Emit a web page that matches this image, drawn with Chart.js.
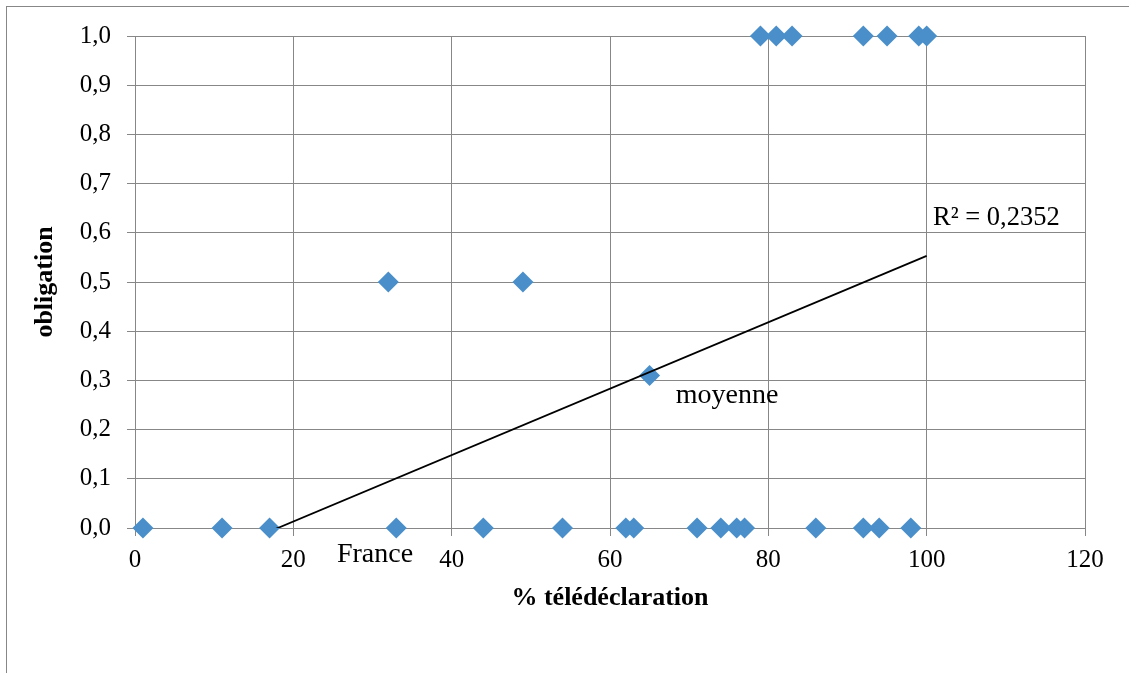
<!DOCTYPE html>
<html>
<head>
<meta charset="utf-8">
<script src="https://cdn.jsdelivr.net/npm/chart.js@4/dist/chart.umd.min.js"></script>
<style>
  body { margin: 0; background: #fff; }
  #wrap { width: 1129px; height: 673px; }
</style>
</head>
<body>
<div id="wrap"><canvas id="chart" width="1129" height="673"></canvas></div>
<script>
// ---- data ----
const teledeclaration = [1, 11, 17, 33, 44, 54, 62, 63, 71, 74, 76, 77, 86, 92, 94, 98,
                         32, 49, 65, 79, 81, 83, 92, 95, 99, 100];
const obligation = [0, 0, 0, 0, 0, 0, 0, 0, 0, 0, 0, 0, 0, 0, 0, 0,
                    0.5, 0.5, 0.31, 1, 1, 1, 1, 1, 1, 1];

// linear trend (Excel), ends
const trendX = [1, 100];
const trendY = [-0.115, 0.553];

// text labels on the plot (text, then anchor in data units)
const noteTexts = ['R² = 0,2352', 'moyenne', 'France'];
const noteX = [100.8, 68.3, 25.5];
const noteY = [0.616, 0.2535, -0.069];

const xTitle = '% télédéclaration';
const yTitle = 'obligation';

// ---- helpers ----
const SERIF = "'Liberation Serif', 'Times New Roman', serif";
const GRID = '#878787';
const MARKER = '#4A8FCA';
const noteFontSizes = [26.5, 28, 28];

function toPoints(xs, ys) {
    return xs.map((x, i) => ({ x: x, y: ys[i] }));
}

// frame around the whole chart + white background
const framePlugin = {
    id: 'frame',
    beforeDraw(chart) {
        const ctx = chart.ctx;
        ctx.save();
        ctx.fillStyle = '#ffffff';
        ctx.fillRect(0, 0, chart.width, chart.height);
        ctx.strokeStyle = GRID;
        ctx.lineWidth = 1;
        ctx.strokeRect(6.5, 6.5, chart.width + 50, chart.height + 50);
        ctx.restore();
    }
};

// data labels (France, moyenne, R²)
const notesPlugin = {
    id: 'notes',
    afterDatasetsDraw(chart) {
        const ctx = chart.ctx;
        const xs = chart.scales.x, ys = chart.scales.y;
        ctx.save();
        ctx.fillStyle = '#000';
        ctx.textAlign = 'left';
        ctx.textBaseline = 'alphabetic';
        noteTexts.forEach((t, i) => {
            ctx.font = noteFontSizes[i] + 'px ' + SERIF;
            ctx.fillText(t, xs.getPixelForValue(noteX[i]), ys.getPixelForValue(noteY[i]));
        });
        ctx.restore();
    }
};

new Chart(document.getElementById('chart'), {
    type: 'scatter',
    data: {
        datasets: [
            {
                type: 'line',
                data: toPoints(trendX, trendY),
                borderColor: '#000',
                borderWidth: 1.75,
                pointRadius: 0,
                fill: false,
                clip: 0,
                order: 0
            },
            {
                data: toPoints(teledeclaration, obligation),
                pointStyle: 'rectRot',
                pointRadius: 10.5,
                pointHoverRadius: 10.5,
                backgroundColor: MARKER,
                borderColor: MARKER,
                borderWidth: 0,
                clip: false,
                order: 1
            }
        ]
    },
    options: {
        responsive: false,
        animation: false,
        layout: { padding: { left: 0, top: 36, right: 44, bottom: 0 } },
        plugins: {
            legend: { display: false },
            tooltip: { enabled: false }
        },
        scales: {
            x: {
                type: 'linear',
                min: 0,
                max: 120,
                ticks: {
                    stepSize: 20,
                    padding: 9,
                    color: '#000',
                    font: { family: SERIF, size: 25 }
                },
                grid: { color: GRID, lineWidth: 1, tickLength: 8 },
                border: { color: GRID, width: 1 },
                title: {
                    display: true,
                    text: xTitle,
                    color: '#000',
                    font: { family: SERIF, size: 26, weight: 'bold' },
                    padding: { top: 0, bottom: 59 }
                },
                afterFit(scale) { scale.height = 145; }
            },
            y: {
                type: 'linear',
                min: 0,
                max: 1,
                ticks: {
                    stepSize: 0.1,
                    padding: 16,
                    color: '#000',
                    font: { family: SERIF, size: 25 },
                    callback: v => v.toFixed(1).replace('.', ',')
                },
                grid: { color: GRID, lineWidth: 1, tickLength: 8 },
                border: { color: GRID, width: 1 },
                title: {
                    display: true,
                    text: yTitle,
                    color: '#000',
                    font: { family: SERIF, size: 26, weight: 'bold' },
                    padding: { top: 30, bottom: 0 }
                },
                afterFit(scale) { scale.width = 135; }
            }
        }
    },
    plugins: [framePlugin, notesPlugin]
});
</script>
</body>
</html>
